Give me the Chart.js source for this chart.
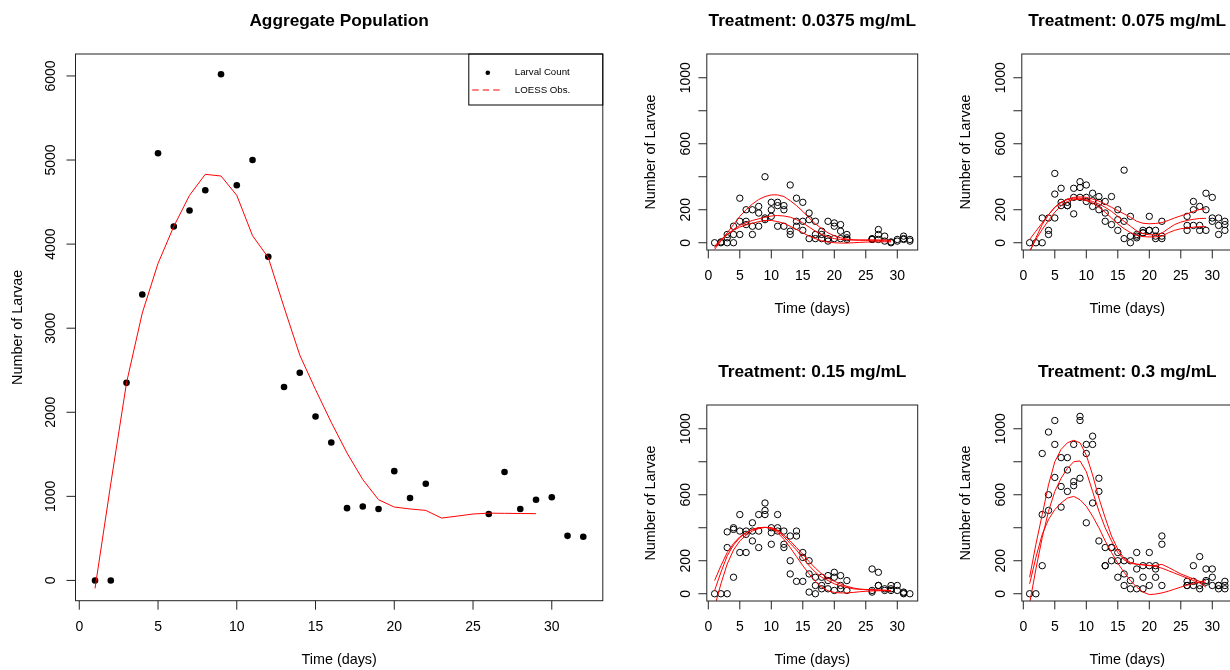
<!DOCTYPE html>
<html>
<head>
<meta charset="utf-8">
<title>Larval counts by treatment</title>
<script src="https://cdn.jsdelivr.net/npm/chart.js@4.4.0/dist/chart.umd.min.js"></script>
<style>
  html, body { margin: 0; padding: 0; background: #fff; width: 1230px; height: 670px; overflow: hidden; }
  canvas { position: absolute; }
</style>
</head>
<body>
<canvas id="agg" width="630" height="670" style="left:0;top:0"></canvas>
<canvas id="t0375" width="315" height="350" style="left:630px;top:0"></canvas>
<canvas id="t075" width="315" height="350" style="left:945px;top:0"></canvas>
<canvas id="t15" width="315" height="350" style="left:630px;top:351px"></canvas>
<canvas id="t3" width="315" height="350" style="left:945px;top:351px"></canvas>
<script>
(function () {
  "use strict";

  // ---- data ----
  // sampling days (no samples on days 23-25)
  const DAYS = [1, 2, 3, 4, 5, 6, 7, 8, 9, 10, 11, 12, 13, 14, 15, 16, 17, 18, 19, 20, 21, 22,
                26, 27, 28, 29, 30, 31, 32];
  // days the LOESS curves were evaluated on
  const FIT_DAYS = [1, 2, 3, 4, 5, 6, 7, 8, 9, 10, 11, 12, 13, 14, 15, 16, 17, 18, 19, 20,
                    21, 22, 23, 24, 25, 26, 27, 28, 29];

  const AGG_COUNT = [0, 0, 2350, 3400, 5080, 4210, 4400, 4640, 6020, 4700, 5000, 3850, 2300, 2470,
                     1950, 1640, 860, 880, 850, 1300, 980, 1150, 790, 1290, 850, 960, 990, 530, 520];
  const AGG_LOESS = [-95, 1150, 2350, 3180, 3770, 4210, 4580, 4830, 4810, 4580, 4100, 3840, 3250,
                     2680, 2270, 1880, 1516, 1200, 960, 873, 850, 833, 742, 765, 790, 800, 798, 796, 794];

  // replicate counts per sampling day, one inner list per entry of DAYS
  const T0375_COUNTS = [[0], [0, 5], [0, 50, 30], [0, 100, 50], [270, 130, 50], [200, 130, 110],
    [200, 100, 50], [220, 180, 100], [400, 150, 140], [245, 200, 160], [245, 225, 100],
    [225, 200, 100], [350, 70, 50], [270, 130, 100], [245, 130, 75], [180, 140, 25],
    [130, 50, 25], [70, 50, 25], [130, 25, 10], [120, 100, 25], [110, 70, 25], [50, 30, 20],
    [25, 20, 20], [80, 50, 20], [40, 10], [0, 5], [20, 10], [40, 25, 20], [20, 10]];
  const T075_COUNTS = [[0], [0], [0, 150], [150, 75, 50], [420, 295, 150], [330, 245, 225],
    [245, 225, 225], [330, 275, 175], [370, 335, 275], [350, 275, 250], [300, 255, 220],
    [280, 245, 200], [250, 180, 130], [280, 110], [200, 140, 75], [440, 130, 25], [160, 40, 0],
    [50, 40, 30], [75, 60, 60], [160, 75, 75], [75, 40, 25], [130, 40, 25], [160, 105, 75],
    [250, 200, 105], [220, 105, 75], [300, 200, 75], [275, 150, 130], [150, 105, 50],
    [130, 110, 75]];
  const T15_COUNTS = [[0], [0], [375, 280, 0], [400, 390, 100], [480, 380, 250], [380, 360, 250],
    [430, 380, 320], [480, 380, 280], [550, 505, 480], [400, 370, 300], [480, 400, 380],
    [380, 300, 280], [350, 200, 120], [380, 350, 75], [250, 220, 75], [200, 120, 10],
    [100, 50, 0], [100, 50, 30], [110, 80, 30], [130, 100, 20], [110, 50, 30], [80, 20],
    [150, 20, 10], [130, 50, 50], [30, 20], [50, 30, 20], [50, 20], [10, 5, 0], [0]];
  const T3_COUNTS = [[0], [0], [850, 480, 170], [980, 600, 505], [1050, 905, 705], [825, 650, 525],
    [825, 750, 620], [905, 680, 655], [1075, 1050, 700], [905, 850, 430], [955, 905, 550],
    [700, 620, 320], [280, 170, 170], [280, 280, 200], [250, 200, 100], [200, 120, 50],
    [200, 80, 30], [250, 150, 30], [170, 100, 30], [250, 170, 50], [170, 150, 100],
    [350, 300, 50], [75, 50, 50], [170, 75, 50], [225, 50, 30], [150, 80, 70], [150, 100, 50],
    [50, 50, 30], [75, 50, 30]];

  // three LOESS fits per treatment, on FIT_DAYS
  const T0375_FIT_A = [-40, 10, 60, 110, 160, 200, 235, 262, 280, 290, 290, 280, 255, 225, 190,
                       150, 115, 85, 60, 42, 30, 22, 18, 17, 17, 17, 17, 17, 15];
  const T0375_FIT_B = [-30, 15, 50, 80, 105, 122, 135, 145, 155, 162, 165, 162, 155, 140, 120, 95,
                       70, 50, 35, 25, 20, 18, 16, 15, 15, 15, 14, 12, 10];
  const T0375_FIT_C = [-20, 20, 50, 75, 95, 108, 118, 128, 135, 135, 128, 118, 100, 80, 60, 40, 25,
                       12, 4, 0, -2, -2, 0, 2, 4, 5, 6, 6, 5];
  const T075_FIT_A = [20, 70, 120, 170, 215, 245, 265, 275, 278, 275, 265, 252, 235, 215, 195, 175,
                      155, 130, 118, 115, 117, 122, 135, 150, 163, 175, 190, 202, 205];
  const T075_FIT_B = [-60, 30, 110, 170, 215, 245, 262, 270, 270, 262, 250, 235, 215, 190, 160, 130,
                      100, 72, 55, 48, 48, 58, 85, 110, 125, 135, 142, 147, 148];
  const T075_FIT_C = [-50, 20, 80, 135, 185, 225, 250, 262, 263, 255, 240, 215, 185, 150, 115, 85,
                      62, 45, 37, 35, 36, 40, 60, 75, 85, 90, 94, 97, 98];
  const T15_FIT_A = [80, 170, 250, 305, 345, 370, 390, 400, 402, 398, 380, 345, 305, 265, 215, 170,
                     130, 100, 80, 60, 48, 38, 30, 27, 26, 25, 24, 22, 20];
  const T15_FIT_B = [20, 130, 230, 295, 340, 370, 390, 400, 403, 395, 370, 330, 280, 225, 170, 120,
                     75, 40, 18, 8, 5, 5, 8, 12, 15, 17, 18, 19, 20];
  const T15_FIT_C = [-80, 60, 180, 265, 320, 355, 380, 395, 402, 402, 385, 355, 320, 280, 240, 195,
                     155, 120, 95, 75, 60, 45, 35, 28, 24, 22, 20, 18, 16];
  const T3_FIT_A = [100, 300, 480, 660, 800, 875, 915, 930, 915, 840, 720, 580, 460, 350, 270, 215,
                    190, 180, 175, 170, 172, 178, 160, 140, 120, 105, 90, 75, 65];
  const T3_FIT_B = [-60, 150, 340, 500, 620, 700, 760, 800, 805, 740, 620, 500, 400, 320, 250, 205,
                    185, 178, 176, 172, 165, 155, 140, 125, 110, 95, 80, 65, 40];
  const T3_FIT_C = [60, 220, 360, 450, 510, 550, 580, 590, 570, 530, 470, 400, 320, 250, 185, 130,
                    80, 40, 10, -5, -2, 5, 15, 28, 40, 52, 62, 72, 80];

  const X_TICKS = [0, 5, 10, 15, 20, 25, 30];
  const AGG_Y_TICKS = [0, 1000, 2000, 3000, 4000, 5000, 6000];
  const AGG_Y_LABELS = ["0", "1000", "2000", "3000", "4000", "5000", "6000"];
  const PANEL_Y_TICKS = [0, 200, 400, 600, 800, 1000];
  const PANEL_Y_LABELS = ["0", "200", "", "600", "", "1000"];

  // ---- drawing helpers ----
  const INK = "#000";
  const RED = "#ff0000";
  const FONT = '"Liberation Sans", Arial, Helvetica, sans-serif';

  function pairs(xs, ys) {
    return xs.map((x, i) => ({ x, y: ys[i] }));
  }

  function flatten(days, counts) {
    const pts = [];
    counts.forEach((list, i) => list.forEach(v => pts.push({ x: days[i], y: v })));
    return pts;
  }

  // base-graphics style frame: box, outward ticks, rotated y labels, titles
  const rFrame = {
    id: "rFrame",
    afterDraw(chart, args, o) {
      const { ctx, chartArea: a } = chart;
      const sx = chart.scales.x, sy = chart.scales.y;
      ctx.save();
      ctx.strokeStyle = "#222";
      ctx.lineWidth = 1;
      ctx.strokeRect(a.left, a.top, a.right - a.left, a.bottom - a.top);

      ctx.beginPath();
      X_TICKS.forEach(v => {
        const px = sx.getPixelForValue(v);
        ctx.moveTo(px, a.bottom);
        ctx.lineTo(px, a.bottom + o.tick);
      });
      o.yTicks.forEach(v => {
        const py = sy.getPixelForValue(v);
        ctx.moveTo(a.left, py);
        ctx.lineTo(a.left - o.tick, py);
      });
      ctx.stroke();

      ctx.fillStyle = INK;
      ctx.textAlign = "center";
      ctx.textBaseline = "middle";
      ctx.font = "14px " + FONT;
      X_TICKS.forEach(v => ctx.fillText(String(v), sx.getPixelForValue(v), a.bottom + 26));
      o.yTicks.forEach((v, i) => {
        const lbl = o.yLabels[i];
        if (!lbl) return;
        ctx.save();
        ctx.translate(a.left - o.yLabelGap, sy.getPixelForValue(v));
        ctx.rotate(-Math.PI / 2);
        ctx.fillText(lbl, 0, 0);
        ctx.restore();
      });

      ctx.font = "14.4px " + FONT;
      const midX = (a.left + a.right) / 2;
      ctx.fillText("Time (days)", midX, a.bottom + 59.5);
      ctx.save();
      ctx.translate(a.left - o.yTitleGap, (a.top + a.bottom) / 2);
      ctx.rotate(-Math.PI / 2);
      ctx.fillText("Number of Larvae", 0, 0);
      ctx.restore();

      ctx.font = "bold 17.3px " + FONT;
      ctx.fillText(o.title, midX, a.top - 32.3);

      if (o.legend) drawLegend(ctx, a);
      ctx.restore();
    }
  };

  function drawLegend(ctx, a) {
    const left = a.right - 134, top = a.top, bottom = a.top + 51;
    ctx.strokeStyle = INK;
    ctx.lineWidth = 1;
    ctx.strokeRect(left, top, a.right - left, bottom - top);
    ctx.fillStyle = INK;
    ctx.beginPath();
    ctx.arc(left + 19, top + 18.7, 2.3, 0, Math.PI * 2);
    ctx.fill();
    ctx.strokeStyle = RED;
    ctx.setLineDash([6.5, 4]);
    ctx.beginPath();
    ctx.moveTo(left + 3.4, top + 36);
    ctx.lineTo(left + 31.4, top + 36);
    ctx.stroke();
    ctx.setLineDash([]);
    ctx.font = "9.7px " + FONT;
    ctx.textAlign = "left";
    ctx.fillText("Larval Count", left + 46, top + 18.7);
    ctx.fillText("LOESS Obs.", left + 46, top + 36);
  }

  function baseOptions(pad, yMin, yMax, frame) {
    return {
      responsive: false,
      animation: false,
      devicePixelRatio: 1,
      events: [],
      layout: { padding: pad },
      scales: {
        x: { type: "linear", display: false, min: -0.24, max: 33.24 },
        y: { type: "linear", display: false, min: yMin, max: yMax }
      },
      plugins: { legend: { display: false }, tooltip: { enabled: false }, rFrame: frame }
    };
  }

  function fitLine(ys) {
    return {
      data: pairs(FIT_DAYS, ys), showLine: true, borderColor: RED, borderWidth: 1,
      pointRadius: 0, tension: 0, order: 0
    };
  }

  // ---- aggregate panel ----
  new Chart(document.getElementById("agg"), {
    type: "scatter",
    data: {
      datasets: [
        fitLine(AGG_LOESS),
        {
          data: pairs(DAYS, AGG_COUNT), pointRadius: 3.3, pointBorderWidth: 0,
          pointBackgroundColor: INK, pointBorderColor: INK, order: 1
        }
      ]
    },
    options: baseOptions({ left: 75.5, right: 27.2, top: 54, bottom: 69.3 }, -241, 6261, {
      title: "Aggregate Population", yTicks: AGG_Y_TICKS, yLabels: AGG_Y_LABELS,
      tick: 9, yLabelGap: 24.3, yTitleGap: 57.5, legend: true
    }),
    plugins: [rFrame]
  });

  // ---- treatment panels ----
  const PANELS = [
    { id: "t0375", title: "Treatment: 0.0375 mg/mL", counts: T0375_COUNTS, fits: [T0375_FIT_A, T0375_FIT_B, T0375_FIT_C] },
    { id: "t075", title: "Treatment: 0.075 mg/mL", counts: T075_COUNTS, fits: [T075_FIT_A, T075_FIT_B, T075_FIT_C] },
    { id: "t15", title: "Treatment: 0.15 mg/mL", counts: T15_COUNTS, fits: [T15_FIT_A, T15_FIT_B, T15_FIT_C] },
    { id: "t3", title: "Treatment: 0.3 mg/mL", counts: T3_COUNTS, fits: [T3_FIT_A, T3_FIT_B, T3_FIT_C] }
  ];

  PANELS.forEach(p => {
    new Chart(document.getElementById(p.id), {
      type: "scatter",
      data: {
        datasets: p.fits.map(fitLine).concat([{
          data: flatten(DAYS, p.counts), pointRadius: 3.2, pointBorderWidth: 1,
          pointBackgroundColor: "rgba(0,0,0,0)", pointBorderColor: INK, order: 1
        }])
      },
      options: baseOptions({ left: 76.8, right: 27.3, top: 54, bottom: 100 }, -44, 1144, {
        title: p.title, yTicks: PANEL_Y_TICKS, yLabels: PANEL_Y_LABELS,
        tick: 8.4, yLabelGap: 20.5, yTitleGap: 56, legend: false
      }),
      plugins: [rFrame]
    });
  });
})();
</script>
</body>
</html>
